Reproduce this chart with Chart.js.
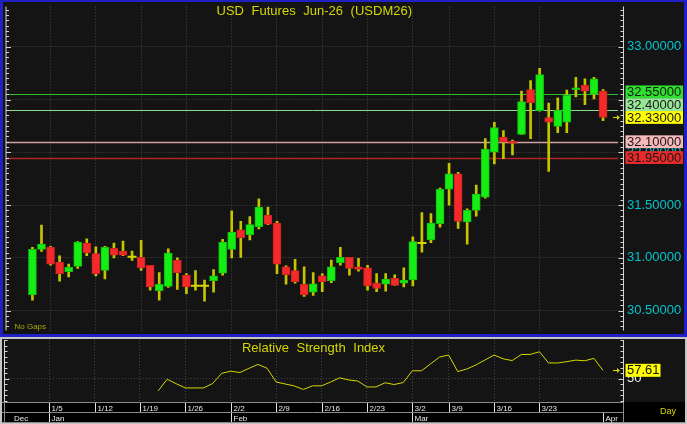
<!DOCTYPE html>
<html><head><meta charset="utf-8">
<script src="https://cdn.jsdelivr.net/npm/chart.js@4.4.1/dist/chart.umd.min.js"></script>
<style>
html,body{margin:0;padding:0;background:#c4c4c4;width:687px;height:424px;overflow:hidden;}
#m{position:absolute;left:0;top:0;width:687px;height:337px;}
#r{position:absolute;left:0;top:338px;width:687px;height:86px;}
canvas{display:block;}
</style></head><body>
<div id="m"><canvas id="cm" width="687" height="337"></canvas></div>
<div id="r"><canvas id="cr" width="687" height="86"></canvas></div>
<script>
// ---------------- data ----------------
const dates = ['12/30','12/31','1/5','1/6','1/7','1/8','1/9','1/12','1/13','1/14','1/15','1/16','1/19','1/20','1/21','1/22','1/23','1/26','1/27','1/28','1/29','1/30','2/2','2/3','2/4','2/5','2/6','2/9','2/10','2/11','2/12','2/13','2/16','2/17','2/18','2/19','2/20','2/23','2/24','2/25','2/26','2/27','3/2','3/3','3/4','3/5','3/9','3/10','3/11','3/12','3/13','3/16','3/17','3/18','3/19','3/20','3/23','3/24','3/25','3/26','3/27','3/30','3/31','4/1'];
const opens = [30.65,31.08,31.10,30.96,30.87,30.92,31.14,31.04,30.88,31.09,
  31.065,31.01,31.005,30.93,30.69,30.73,30.98,30.835,30.735,30.735,
  30.785,30.855,31.08,31.265,31.22,31.295,31.405,31.33,30.915,30.88,
  30.75,30.675,30.83,30.785,30.955,31.005,30.915,30.905,30.76,30.75,
  30.805,30.76,30.79,31.14,31.17,31.325,31.65,31.795,31.34,31.45,
  31.575,32.00,32.145,32.105,32.17,32.595,32.395,32.33,32.245,32.285,
  32.59,32.635,32.55,32.58];
const highs = [31.10,31.31,31.11,31.02,30.94,31.155,31.18,31.105,31.11,31.14,
  31.16,31.065,31.165,30.93,30.86,31.085,31.00,30.85,30.88,30.79,
  30.89,31.175,31.445,31.345,31.39,31.56,31.48,31.345,30.925,30.985,
  30.915,30.86,30.85,30.98,31.10,31.005,30.995,30.93,30.85,30.85,
  30.84,30.905,31.20,31.43,31.42,31.66,31.895,31.81,31.465,31.69,
  32.13,32.285,32.205,32.115,32.58,32.68,32.795,32.465,32.515,32.59,
  32.71,32.695,32.71,32.595];
const lows = [30.60,31.06,30.93,30.78,30.82,30.90,31.02,30.83,30.80,31.00,
  31.02,30.975,30.88,30.695,30.60,30.72,30.70,30.66,30.695,30.59,
  30.675,30.835,31.00,31.005,31.17,31.275,31.315,30.85,30.75,30.76,
  30.635,30.645,30.68,30.765,30.93,30.835,30.875,30.695,30.68,30.685,
  30.74,30.725,30.735,31.055,31.145,31.29,31.50,31.28,31.13,31.395,
  31.565,31.89,31.94,31.975,32.17,32.13,32.39,31.82,32.185,32.185,
  32.525,32.45,32.505,32.30];
const closes = [31.08,31.13,30.94,30.85,30.91,31.15,31.05,30.85,31.10,31.025,
  31.025,31.01,30.905,30.725,30.75,31.045,30.86,30.725,30.735,30.735,
  30.83,31.15,31.245,31.19,31.315,31.48,31.32,30.94,30.84,30.775,
  30.65,30.755,30.775,30.915,31.005,30.90,30.89,30.735,30.71,30.80,
  30.74,30.79,31.155,31.14,31.33,31.65,31.795,31.345,31.45,31.605,
  32.03,32.235,32.095,32.085,32.48,32.47,32.735,32.285,32.40,32.54,
  32.61,32.58,32.695,32.33];
const rsi = [null,null,null,null,null,null,null,null,null,null,null,null,null,null,
  38.9,49.5,45.4,41.6,41.6,41.6,45.6,54.9,56.8,55.6,
  59.4,63.0,59.5,47.0,45.2,43.4,40.2,43.5,43.5,47.0,
  50.8,48.8,47.9,42.5,42.5,46.3,44.7,46.5,57.2,57.2,
  63.4,69.7,71.5,56.5,58.8,62.5,67.0,71.5,68.1,66.5,
  72.0,72.1,74.5,64.3,64.3,65.5,66.9,66.3,68.5,57.61];
const priceTicks = [30.5, 31.0, 31.5, 32.0, 32.5, 33.0];
const rsiTicks = [50];
const weekLabels = ['1/5','1/12','1/19','1/26','2/2','2/9','2/16','2/23','3/2','3/9','3/16','3/23'];
const monthLabels = ['Dec','Jan','Feb','Mar','Apr'];
const monthStarts = [null,'1/5','2/2','3/2','4/1'];
const levelValues = [32.55, 32.40, 32.10, 31.95];
const mainTitle = 'USD Futures Jun-26 (USDM26)';
const rsiTitle = 'Relative Strength Index';

// ---------------- styles ----------------
const FONT = "'Liberation Sans', Arial, sans-serif";
const BG = '#141414';
const GRID = '#464646';
const YEL = '#d6d600';
const levelLineColors = ['#2cc02c', '#8edc8e', '#cfa0a0', '#b02424'];
const levelLineWidths = [1, 1, 1.5, 1.5];
const levelBoxColors = ['#2ee02e', '#98e698', '#f6b8b8', '#e82a2a'];
const X_MIN = -2.8636, X_MAX = 65.0927;

const idx = dates.map((d, i) => i);
const weekIdx = weekLabels.map(l => dates.indexOf(l));

function fixFit(w, h) {
  return s => {
    if (w != null) s.width = w;
    if (h != null) s.height = h;
    s.paddingTop = 0; s.paddingBottom = 0; s.paddingLeft = 0; s.paddingRight = 0;
  };
}
function xScaleOpts() {
  return {
    type: 'linear', min: X_MIN, max: X_MAX, offset: false,
    afterBuildTicks: s => { s.ticks = weekIdx.map(v => ({ value: v })); },
    ticks: { display: false },
    grid: { color: GRID, drawTicks: false, offset: false, borderDash: [1, 2] },
    border: { display: false, dash: [1, 2] },
    afterFit: fixFit(null, 0)
  };
}
function line(g, x1, y1, x2, y2) { g.beginPath(); g.moveTo(x1, y1); g.lineTo(x2, y2); g.stroke(); }
function drawSideAxes(g, scale, a, step, major) {
  g.save();
  g.strokeStyle = '#d4d4d4'; g.lineWidth = 1;
  const xr = a.right + 1.5, xl = a.left - 0.5;
  line(g, xr, a.top, xr, a.bottom);
  line(g, xl, a.top, xl, a.bottom);
  const k0 = Math.ceil(scale.min / step - 1e-9), k1 = Math.floor(scale.max / step + 1e-9);
  for (let k = k0; k <= k1; k++) {
    const v = k * step;
    const y = Math.round(scale.getPixelForValue(v)) + 0.5;
    const isMajor = Math.abs(v / major - Math.round(v / major)) < 1e-6;
    const len = isMajor ? 5 : 3;
    line(g, xr - len, y, xr, y);
    line(g, xl, y, xl + len, y);
  }
  g.restore();
}
function drawArrow(g, x, y) {
  g.save();
  g.strokeStyle = YEL; g.fillStyle = YEL; g.lineWidth = 1;
  line(g, x - 5, y + 0.5, x, y + 0.5);
  g.beginPath(); g.moveTo(x + 2, y + 0.5); g.lineTo(x - 1, y - 2); g.lineTo(x - 1, y + 3); g.closePath(); g.fill();
  g.restore();
}

// ---------------- main chart ----------------
const mainDeco = {
  id: 'mainDeco',
  beforeDraw(c) {
    const g = c.ctx;
    g.save();
    g.fillStyle = BG; g.fillRect(0, 0, c.width, c.height);
    g.fillStyle = '#2020c4';
    g.fillRect(0, 0, c.width, 2);
    g.fillRect(0, 0, 3, c.height);
    g.fillRect(c.width - 3, 0, 3, c.height);
    g.fillRect(0, c.height - 3, c.width, 3);
    g.restore();
  },
  beforeDatasetsDraw(c) {
    const g = c.ctx, ys = c.scales.y, a = c.chartArea;
    g.save();
    levelValues.forEach((v, k) => {
      const y = Math.round(ys.getPixelForValue(v)) + 0.5;
      g.strokeStyle = levelLineColors[k]; g.lineWidth = levelLineWidths[k];
      line(g, a.left, y, a.right - 4, y);
    });
    g.restore();
  },
  afterDraw(c) {
    const g = c.ctx, ys = c.scales.y, a = c.chartArea;
    drawSideAxes(g, ys, a, 0.05, 0.5);
    const last = closes[closes.length - 1];
    const H = 12.8;
    const entries = levelValues.map((v, k) => ({ v, fill: levelBoxColors[k] }));
    const anchor = { v: last, fill: '#ffff00', anchor: true };
    entries.push(anchor);
    entries.forEach(e => { e.y = ys.getPixelForValue(e.v); });
    let prev = anchor.y;
    entries.filter(e => !e.anchor && e.y < anchor.y).sort((p, q) => q.y - p.y)
      .forEach(e => { e.y = Math.min(e.y, prev - H); prev = e.y; });
    prev = anchor.y;
    entries.filter(e => !e.anchor && e.y >= anchor.y).sort((p, q) => p.y - q.y)
      .forEach(e => { e.y = Math.max(e.y, prev + H); prev = e.y; });
    g.save();
    g.font = '13px ' + FONT; g.textBaseline = 'middle'; g.textAlign = 'left';
    entries.forEach(e => {
      g.fillStyle = e.fill; g.fillRect(a.right + 3.5, e.y - H / 2, 57.5, H);
      g.fillStyle = '#181818'; g.fillText(e.v.toFixed(5), a.right + 5, e.y + 0.5);
    });
    g.restore();
    drawArrow(g, a.right - 4, Math.round(ys.getPixelForValue(last)));
    g.save();
    g.font = '13px ' + FONT; g.fillStyle = YEL; g.textAlign = 'center'; g.textBaseline = 'middle';
    try { g.wordSpacing = '4px'; } catch (e) {}
    g.fillText(mainTitle, (a.left + a.right) / 2, 11);
    g.wordSpacing = '0px';
    g.font = '8px ' + FONT; g.fillStyle = '#a8a800'; g.textAlign = 'left'; g.textBaseline = 'alphabetic';
    g.fillText('No Gaps', a.left + 8, a.bottom - 1.5);
    g.restore();
  }
};

new Chart(document.getElementById('cm'), {
  type: 'bar',
  data: {
    datasets: [
      {
        type: 'scatter',
        data: idx.filter(i => opens[i] === closes[i]).map(i => ({ x: i, y: closes[i] })),
        pointStyle: 'line', pointRadius: 4.5, borderColor: YEL, borderWidth: 2, order: 0
      },
      {
        type: 'bar',
        data: idx.map(i => ({ x: i, y: [opens[i], closes[i]] })),
        backgroundColor: ctx => (closes[ctx.dataIndex] >= opens[ctx.dataIndex] ? '#14ee14' : '#f42a2a'),
        borderColor: ctx => (closes[ctx.dataIndex] >= opens[ctx.dataIndex] ? '#10c010' : '#d02020'),
        borderWidth: 1, borderSkipped: false, barThickness: 8, grouped: false, order: 1
      },
      {
        type: 'bar',
        data: idx.map(i => ({ x: i, y: [lows[i], highs[i]] })),
        backgroundColor: '#c4c400', borderWidth: 0, barThickness: 2, grouped: false, order: 2
      }
    ]
  },
  options: {
    responsive: false, animation: false, events: [],
    layout: { padding: { left: 5, top: 3, right: 3, bottom: 4 } },
    plugins: { legend: { display: false }, tooltip: { enabled: false }, title: { display: false } },
    scales: {
      x: xScaleOpts(),
      y: {
        position: 'right', min: 30.312, max: 33.381,
        afterBuildTicks: s => { s.ticks = priceTicks.map(v => ({ value: v })); },
        ticks: { color: '#00c4cc', font: { family: FONT, size: 13 }, padding: 5, callback: v => Number(v).toFixed(5) },
        grid: { color: GRID, drawTicks: false, borderDash: [1, 2] },
        border: { display: false, dash: [1, 2] },
        afterFit: fixFit(62, null)
      }
    }
  },
  plugins: [mainDeco]
});

// ---------------- RSI chart ----------------
const rsiDeco = {
  id: 'rsiDeco',
  beforeDraw(c) {
    const g = c.ctx, a = c.chartArea;
    g.save();
    g.fillStyle = '#c4c4c4'; g.fillRect(0, 0, c.width, c.height);
    g.fillStyle = BG; g.fillRect(2, 1, c.width - 4, a.bottom - 1);
    g.fillStyle = '#000000';
    g.fillRect(2, a.bottom, a.right - 1, 20);
    g.fillRect(a.right + 2, a.bottom, c.width - a.right - 4, 20);
    g.restore();
  },
  afterDraw(c) {
    const g = c.ctx, ys = c.scales.y, xs = c.scales.x, a = c.chartArea;
    drawSideAxes(g, ys, a, 5, 50);
    g.save();
    g.font = '13px ' + FONT; g.fillStyle = YEL; g.textAlign = 'center'; g.textBaseline = 'middle';
    try { g.wordSpacing = '4px'; } catch (e) {}
    g.fillText(rsiTitle, (a.left + a.right) / 2, 10);
    g.wordSpacing = '0px';
    let lastI = rsi.length - 1; while (rsi[lastI] == null) lastI--;
    const lv = rsi[lastI];
    const ly = ys.getPixelForValue(lv);
    g.fillStyle = '#ffff00'; g.fillRect(a.right + 3.5, ly - 6.5, 35, 13);
    g.fillStyle = '#101010'; g.textAlign = 'left'; g.fillText(lv.toFixed(2), a.right + 5, ly + 0.5);
    g.restore();
    drawArrow(g, a.right - 4, Math.round(ly));
    g.save();
    const top = a.bottom, mid = a.bottom + 10, bot = a.bottom + 20;
    g.strokeStyle = '#8a8a8a'; g.lineWidth = 1;
    line(g, 2, top + 0.5, a.right + 1, top + 0.5);
    line(g, 2, mid + 0.5, a.right + 1, mid + 0.5);
    line(g, 2, bot + 0.5, c.width - 2, bot + 0.5);
    line(g, a.left - 0.5, top, a.left - 0.5, bot);
    line(g, a.right + 1.5, top, a.right + 1.5, bot);
    g.strokeStyle = '#e0e0e0';
    g.fillStyle = '#e8e8e8';
    g.font = '8px ' + FONT; g.textAlign = 'left'; g.textBaseline = 'alphabetic';
    weekLabels.forEach((lab, k) => {
      const x = Math.round(xs.getPixelForValue(weekIdx[k])) + 0.5;
      line(g, x, top + 1, x, mid);
      g.fillText(lab, x + 2, mid - 1.5);
    });
    monthLabels.forEach((lab, k) => {
      const di = monthStarts[k] == null ? -1 : dates.indexOf(monthStarts[k]);
      if (di < 0) { g.fillText(lab, a.left + 9, bot - 1.5); return; }
      const x = Math.round(xs.getPixelForValue(di)) + 0.5;
      line(g, x, mid + 1, x, bot);
      g.fillText(lab, x + 2, bot - 1.5);
    });
    g.font = '9px ' + FONT; g.fillStyle = YEL;
    g.fillText('Day', a.right + 38, bot - 8);
    g.restore();
  }
};

new Chart(document.getElementById('cr'), {
  type: 'line',
  data: {
    datasets: [{
      data: idx.map(i => ({ x: i, y: rsi[i] })),
      borderColor: YEL, borderWidth: 1, pointRadius: 0, spanGaps: false, tension: 0
    }]
  },
  options: {
    responsive: false, animation: false, events: [],
    layout: { padding: { left: 5, top: 2, right: 3, bottom: 22 } },
    plugins: { legend: { display: false }, tooltip: { enabled: false }, title: { display: false } },
    scales: {
      x: xScaleOpts(),
      y: {
        position: 'right', min: 28.8, max: 85.2,
        afterBuildTicks: s => { s.ticks = rsiTicks.map(v => ({ value: v })); },
        ticks: { color: '#eeeeee', font: { family: FONT, size: 13 }, padding: 5, callback: v => String(v) },
        grid: { color: GRID, drawTicks: false, borderDash: [1, 2] },
        border: { display: false, dash: [1, 2] },
        afterFit: fixFit(62, null)
      }
    }
  },
  plugins: [rsiDeco]
});
</script>
</body></html>
